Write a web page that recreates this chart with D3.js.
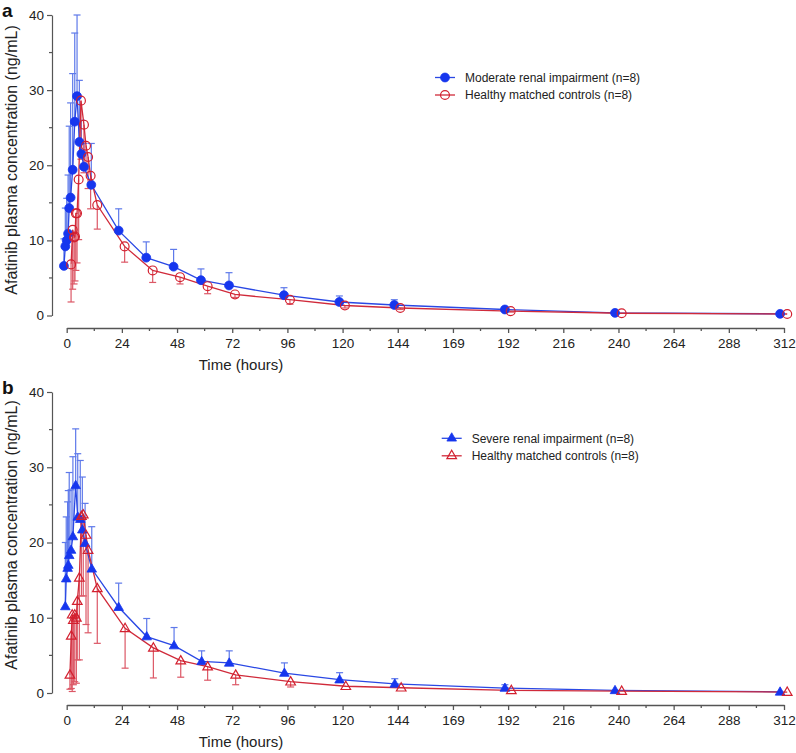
<!DOCTYPE html>
<html>
<head>
<meta charset="utf-8">
<script src="https://cdn.jsdelivr.net/npm/d3@7/dist/d3.min.js"></script>
<style>
  html, body { margin: 0; padding: 0; background: #fff; }
  svg { display: block; font-family: "Liberation Sans", Arial, sans-serif; }
</style>
</head>
<body>
<svg id="chart" width="796" height="753"></svg>
<script>
// ---------- DATA ----------
// x tick labels (the original shows "169" at the 168 h position)
const xTickValues = [0, 24, 48, 72, 96, 120, 144, 168, 192, 216, 240, 264, 288, 312];
const xTickLabels = ["0", "24", "48", "72", "96", "120", "144", "169", "192", "216", "240", "264", "288", "312"];
const xMinorTicks = [12, 36, 60, 84, 108, 132, 156, 180, 204, 228, 252, 276, 300];
const yTickValues = [0, 10, 20, 30, 40];
const yMinorTicks = [5, 15, 25, 35];

// Panel a: Moderate renal impairment (filled circles, mean + upper SD)
const modTime  = [-1.2, -0.6, 0, 0.6, 1.1, 1.7, 2.6, 3.5, 4.5, 5.5, 6.4, 7.5, 10.7, 22.6, 34.6, 46.5, 58.4, 70.6, 94.5, 118.6, 142.5, 190.6, 238.5, 310.3];
const modMean  = [6.6, 9.2, 10.0, 10.9, 14.3, 15.7, 19.4, 25.8, 29.2, 23.1, 21.5, 19.8, 17.4, 11.3, 7.7, 6.5, 4.7, 4.0, 2.7, 1.8, 1.4, 0.8, 0.35, 0.22];
const modUpper = [10.2, 14.3, 15.6, 18.7, 25.2, 28.3, 32.2, 37.6, 40.0, 31.3, 26.0, 22.9, 22.9, 14.2, 9.8, 8.8, 6.2, 5.7, 3.7, 2.6, 2.1, 1.0, null, null];

// Panel a: Healthy matched controls (open circles, mean - lower SD)
const ctlATime  = [1.9, 2.6, 3.2, 3.6, 4.0, 4.5, 5.2, 6.2, 7.5, 8.4, 9.3, 10.4, 13.3, 25.2, 37.4, 49.3, 61.3, 73.2, 97.1, 121.0, 145.1, 193.1, 241.4, 313.4];
const ctlAMean  = [6.8, 11.4, 10.4, 10.5, 13.6, 13.6, 18.1, 28.6, 25.4, 22.6, 21.1, 18.6, 14.7, 9.2, 6.0, 5.1, 3.9, 2.8, 2.1, 1.33, 1.0, 0.58, 0.3, 0.2];
const ctlALower = [1.8, 3.5, 4.2, 4.6, 6.0, 7.0, 10.1, 20.8, 19.0, 19.5, 16.9, 14.2, 11.5, 7.1, 4.4, 4.2, 2.9, 2.4, 1.5, 1.0, 0.8, 0.45, null, null];

// Panel b: Severe renal impairment (filled triangles, mean + upper SD)
const sevTime  = [-0.6, -0.2, 0.4, 0.7, 1.1, 1.9, 2.7, 3.9, 4.8, 5.9, 6.8, 8.0, 10.9, 22.6, 34.8, 46.7, 58.7, 70.7, 94.7, 118.7, 142.7, 190.6, 238.5, 310.3];
const sevMean  = [11.5, 15.2, 16.6, 17.0, 18.3, 19.0, 20.8, 27.6, 23.4, 23.1, 21.7, 19.9, 16.5, 11.4, 7.5, 6.3, 4.2, 4.0, 2.65, 1.77, 1.2, 0.66, 0.35, 0.15];
const sevUpper = [20.0, 23.4, 25.4, 26.9, 29.3, 27.0, 31.4, 35.1, 31.8, 30.9, 28.7, 25.2, 22.1, 14.6, 9.9, 8.7, 5.6, 5.6, 4.0, 2.7, 1.9, 1.1, null, null];

// Panel b: Healthy matched controls (open triangles, mean - lower SD)
const ctlBTime  = [1.4, 2.0, 2.4, 2.9, 3.5, 4.2, 4.6, 5.5, 6.4, 7.2, 8.4, 9.3, 13.3, 25.4, 37.7, 49.6, 61.3, 73.5, 97.4, 121.4, 145.5, 193.4, 241.4, 313.4];
const ctlBMean  = [2.4, 7.6, 10.4, 9.7, 10.4, 10.0, 12.2, 15.3, 23.5, 23.7, 21.0, 19.0, 13.9, 8.6, 6.0, 4.3, 3.5, 2.4, 1.5, 0.9, 0.7, 0.35, 0.25, 0.12];
const ctlBLower = [0.5, 0.6, 0.2, 1.1, 1.5, 1.3, 4.4, 4.4, 12.9, 12.9, 9.1, 8.0, 6.6, 3.3, 2.0, 2.1, 1.7, 1.1, 0.8, null, null, null, null, null];

const labelsA = ["Moderate renal impairment (n=8)", "Healthy matched controls (n=8)"];
const labelsB = ["Severe renal impairment (n=8)", "Healthy matched controls (n=8)"];

// ---------- STYLE ----------
const BLUE = "#1636ee", BLUE_LINE = "#2a48e4", BLUE_ERR = "#4d6be8";
const RED = "#d3202f", RED_LINE = "#d02a3a", RED_ERR = "#d94656";
const AXIS = "#555";

const svg = d3.select("#chart");

function zip(t, m, e) { return t.map((d, i) => ({ t: d, v: m[i], e: e[i] })); }

function drawPanel(cfg) {
  const x = d3.scaleLinear().domain([0, 312]).range([66.7, 784]);
  const y = d3.scaleLinear().domain([0, 40]).range([cfg.y0, cfg.y40]);
  const g = svg.append("g");

  // y axis
  const yAx = g.append("g").attr("transform", `translate(52,0)`)
    .call(d3.axisLeft(y).tickValues(yTickValues).tickSize(5).tickPadding(3).tickSizeOuter(0));
  yAx.append("g").selectAll("line").data(yMinorTicks).join("line")
    .attr("x1", 0).attr("x2", -3).attr("y1", d => y(d)).attr("y2", d => y(d));
  yAx.selectAll("path, line").attr("stroke", AXIS).attr("stroke-width", 1.2);
  yAx.selectAll("text").attr("fill", "#222").style("font-size", "13.5px");

  // x axis
  const xAx = g.append("g").attr("transform", `translate(0,${cfg.xAxisY})`)
    .call(d3.axisBottom(x).tickValues(xTickValues).tickFormat((d, i) => xTickLabels[i])
      .tickSize(5).tickPadding(5).tickSizeOuter(0));
  xAx.append("g").selectAll("line").data(xMinorTicks).join("line")
    .attr("x1", d => x(d)).attr("x2", d => x(d)).attr("y1", 0).attr("y2", 3);
  xAx.selectAll("path, line").attr("stroke", AXIS).attr("stroke-width", 1.3);
  xAx.selectAll("text").attr("fill", "#222").style("font-size", "13.5px");

  // titles
  g.append("text").attr("x", 241).attr("y", cfg.xAxisY + 42).attr("text-anchor", "middle")
    .style("font-size", "15px").attr("fill", "#222").text("Time (hours)");
  g.append("text").attr("transform", `translate(17,${cfg.yTitleC}) rotate(-90)`)
    .attr("text-anchor", "middle").style("font-size", "16px").attr("fill", "#222")
    .text("Afatinib plasma concentration (ng/mL)");
  g.append("text").attr("x", 2).attr("y", cfg.letterY).style("font-size", "19px")
    .style("font-weight", "bold").attr("fill", "#111").text(cfg.letter);

  const line = d3.line().x(d => x(d.t)).y(d => y(d.v));

  cfg.series.forEach(s => {
    const eb = g.append("g").attr("stroke", s.errColor).attr("stroke-width", 1.2).attr("opacity", 0.9);
    s.data.filter(d => d.e != null).forEach(d => {
      eb.append("line").attr("x1", x(d.t)).attr("x2", x(d.t)).attr("y1", y(d.v)).attr("y2", y(d.e));
      eb.append("line").attr("x1", x(d.t) - 3.5).attr("x2", x(d.t) + 3.5).attr("y1", y(d.e)).attr("y2", y(d.e));
    });
  });
  cfg.series.forEach(s => {
    g.append("path").datum(s.data).attr("d", line).attr("fill", "none")
      .attr("stroke", s.lineColor).attr("stroke-width", 1.3);
  });
  cfg.series.forEach(s => {
    const sym = d3.symbol().type(s.shape).size(s.size);
    g.append("g").selectAll("path").data(s.data).join("path")
      .attr("transform", d => `translate(${x(d.t)},${y(d.v) + (s.shape === d3.symbolTriangle ? 0.5 : 0)})`)
      .attr("d", sym)
      .attr("fill", s.filled ? s.color : "none")
      .attr("stroke", s.color).attr("stroke-width", s.filled ? 0.8 : 1.2);
  });

  // legend
  cfg.series.forEach((s, i) => {
    const ly = cfg.legY + i * 17.5;
    const lx = cfg.legX;
    g.append("line").attr("x1", lx).attr("x2", lx + 20).attr("y1", ly).attr("y2", ly)
      .attr("stroke", s.lineColor).attr("stroke-width", 1.3);
    g.append("path").attr("d", d3.symbol().type(s.shape).size(s.size)())
      .attr("transform", `translate(${lx + 10},${ly})`)
      .attr("fill", s.filled ? s.color : "none").attr("stroke", s.color)
      .attr("stroke-width", s.filled ? 0.8 : 1.2);
    g.append("text").attr("x", lx + 30).attr("y", ly).attr("dy", "0.35em")
      .style("font-size", "12px").attr("fill", "#222").text(s.label);
  });
}

drawPanel({
  letter: "a", letterY: 17, y0: 315.5, y40: 15, xAxisY: 328, yTitleC: 160,
  legX: 435, legY: 77.5,
  series: [
    { label: labelsA[0], data: zip(modTime, modMean, modUpper), shape: d3.symbolCircle, size: 62, filled: true,
      color: BLUE, lineColor: BLUE_LINE, errColor: BLUE_ERR },
    { label: labelsA[1], data: zip(ctlATime, ctlAMean, ctlALower), shape: d3.symbolCircle, size: 62, filled: false,
      color: RED, lineColor: RED_LINE, errColor: RED_ERR }
  ]
});

drawPanel({
  letter: "b", letterY: 394, y0: 693, y40: 392, xAxisY: 705, yTitleC: 535,
  legX: 441.7, legY: 438.3,
  series: [
    { label: labelsB[0], data: zip(sevTime, sevMean, sevUpper), shape: d3.symbolTriangle, size: 40, filled: true,
      color: BLUE, lineColor: BLUE_LINE, errColor: BLUE_ERR },
    { label: labelsB[1], data: zip(ctlBTime, ctlBMean, ctlBLower), shape: d3.symbolTriangle, size: 40, filled: false,
      color: RED, lineColor: RED_LINE, errColor: RED_ERR }
  ]
});
</script>
</body>
</html>
